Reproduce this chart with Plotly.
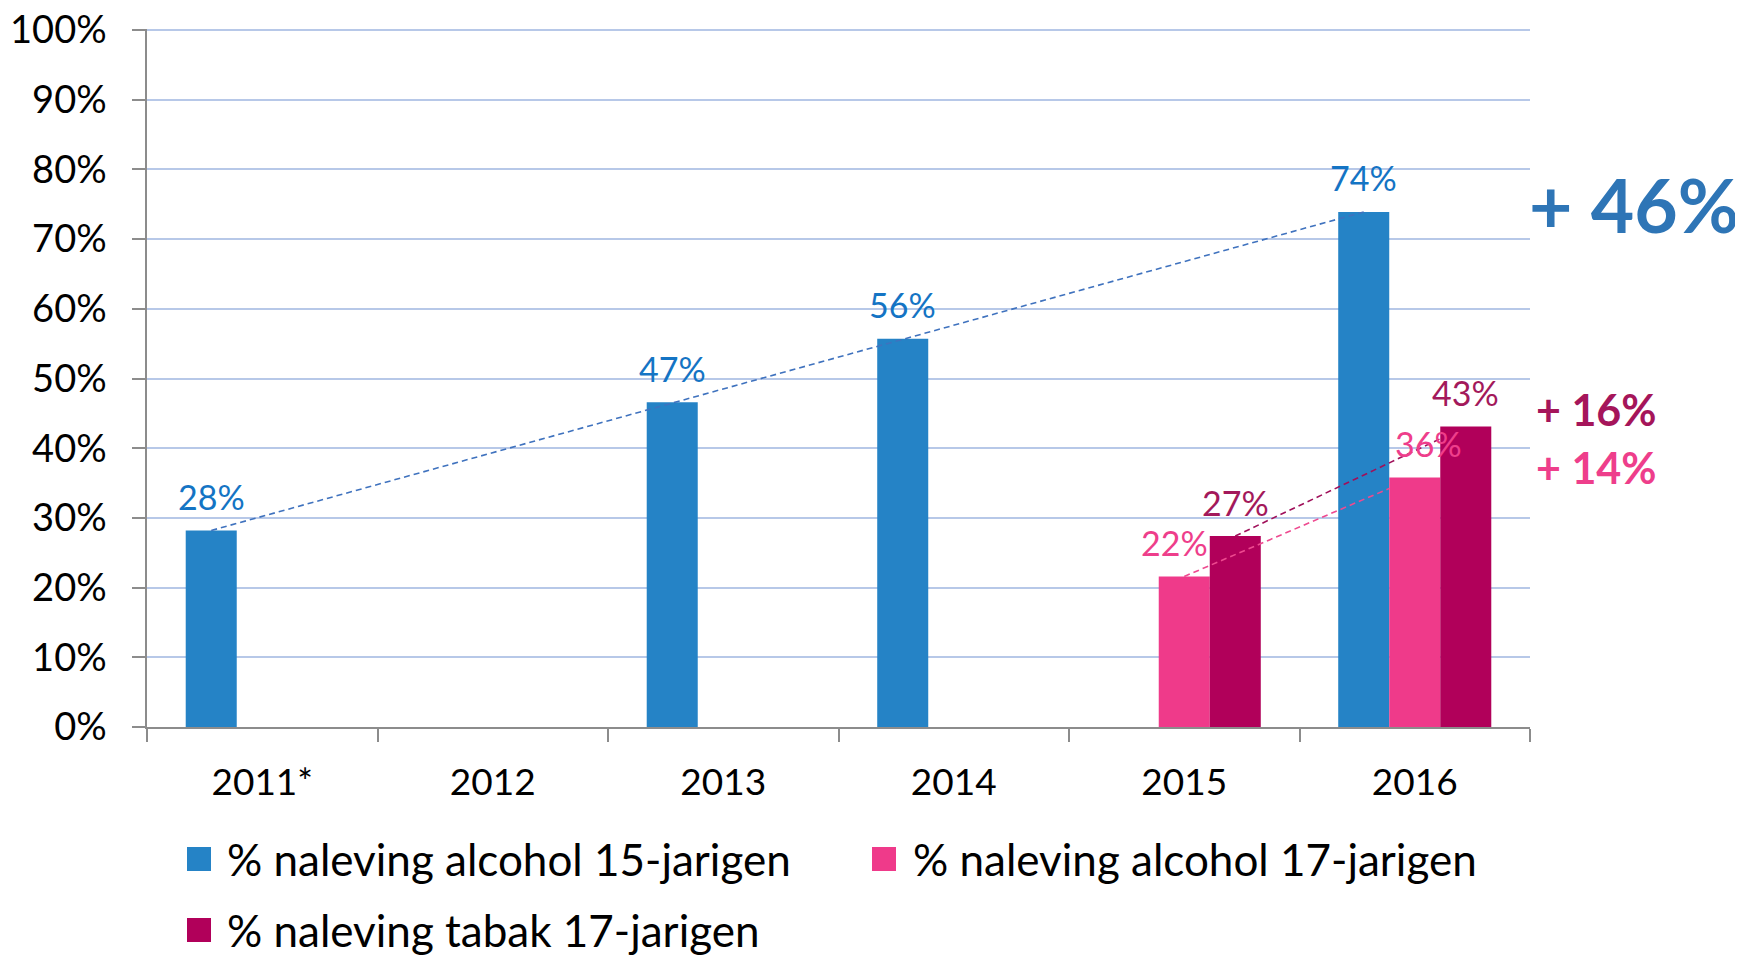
import plotly.graph_objects as go

# ---------------- data ----------------
years = ["2011*", "2012", "2013", "2014", "2015", "2016"]
alc15 = [28.2, None, 46.6, 55.7, None, 73.9]   # % naleving alcohol 15-jarigen
alc17 = [None, None, None, None, 21.6, 35.8]   # % naleving alcohol 17-jarigen
tab17 = [None, None, None, None, 27.4, 43.1]   # % naleving tabak 17-jarigen
series_names = ["% naleving alcohol 15-jarigen",
                "% naleving alcohol 17-jarigen",
                "% naleving tabak 17-jarigen"]

# ---------------- style ----------------
FONT = "Lato, sans-serif"
C_BLUE, C_PINK, C_PURPLE = "#2583C6", "#EF3A8A", "#B1005A"
T_BLUE, T_PINK, T_PURPLE = "#1474C4", "#EE3E8B", "#A3195B"
L_BLUE, L_PINK, L_PURPLE = "#3F72BE", "#EE4A90", "#A0105A"
AXIS_GREY = "#8C8C8C"
GRID = "#B7C8E8"

OFF = 8  # page body margin
W, H = 1743, 955
ML, MT = 147 - OFF, 29 - OFF
MR = W - (1530 - OFF)
MB = H - (727 - OFF)
PW, PH = W - ML - MR, H - MT - MB
BARGAP = 0.336
bw = (1 - BARGAP) / 3
offsets = [-bw, 0.0, bw]
label_xshift = [0, -10, 0]   # small horizontal nudge of the labels per series
label_xshift_last = [0, 14, 0]

xs = list(range(len(years)))
fig = go.Figure()
series = [alc15, alc17, tab17]
bar_colors = [C_BLUE, C_PINK, C_PURPLE]
for vals, name, col in zip(series, series_names, bar_colors):
    fig.add_trace(go.Bar(x=xs, y=vals, name=name, marker_color=col,
                         marker_line_width=0, showlegend=False))

# data labels
label_colors = [T_BLUE, T_PINK, T_PURPLE]
annotations = []
for s, (vals, off, col) in enumerate(zip(series, offsets, label_colors)):
    for i, v in enumerate(vals):
        if v is None:
            continue
        xsh = label_xshift_last[s] if i == len(vals) - 1 else label_xshift[s]
        annotations.append(dict(x=i + off, y=v, xref="x", yref="y",
                                text=f"{round(v)}%", showarrow=False,
                                yshift=34, xshift=xsh, yanchor="middle",
                                font=dict(family=FONT, size=34, color=col)))

# dashed trend lines
def idx(vals):
    return [i for i, v in enumerate(vals) if v is not None]

b = idx(alc15)
fig.add_trace(go.Scatter(x=[b[0] + offsets[0], b[-1] + offsets[0]],
                         y=[alc15[b[0]], alc15[b[-1]]], mode="lines",
                         line=dict(color=L_BLUE, width=1.6, dash="6px,4px"),
                         showlegend=False, hoverinfo="skip"))
T_END = 0.89
for vals, off, col in [(alc17, offsets[1], L_PINK), (tab17, offsets[2], L_PURPLE)]:
    k = idx(vals)
    x0, x1 = k[0] + off, k[-1] + off
    y0, y1 = vals[k[0]], vals[k[-1]]
    fig.add_trace(go.Scatter(x=[x0, x0 + T_END * (x1 - x0)],
                             y=[y0, y0 + T_END * (y1 - y0)], mode="lines",
                             line=dict(color=col, width=1.6, dash="6px,4px"),
                             showlegend=False, hoverinfo="skip"))

# change annotations
d15 = round(alc15[b[-1]]) - round(alc15[b[0]])
d17a = round(alc17[-1]) - round(alc17[4])
d17t = round(tab17[-1]) - round(tab17[4])
annotations.append(dict(xref="paper", yref="y", x=1.0, y=75, xanchor="left",
                        xshift=-3, text=f"<b>+ {d15}%</b>", showarrow=False,
                        font=dict(family=FONT, size=75, color="#2E75B6")))
annotations.append(dict(xref="paper", yref="y", x=1.0, y=45.6, xanchor="left",
                        xshift=4, text=f"<b>+ {d17t}%</b>", showarrow=False,
                        font=dict(family=FONT, size=43, color="#A5155A")))
annotations.append(dict(xref="paper", yref="y", x=1.0, y=37.2, xanchor="left",
                        xshift=4, text=f"<b>+ {d17a}%</b>", showarrow=False,
                        font=dict(family=FONT, size=43, color="#EE3E8B")))

# custom legend (screen pixel positions -> paper)
def px(xp):
    return (xp - OFF - ML) / PW

def py(yp):
    return (H - MB - (yp - OFF)) / PH

shapes = []
legend_items = [(187, 859, 225), (872, 859, 911), (187, 930, 225)]
for (sx, sy, tx), name, col in zip(legend_items, series_names, bar_colors):
    shapes.append(dict(type="rect", xref="paper", yref="paper",
                       x0=px(sx), x1=px(sx + 24), y0=py(sy + 12), y1=py(sy - 12),
                       fillcolor=col, line=dict(width=0)))
    annotations.append(dict(xref="paper", yref="paper", x=px(tx), y=py(sy),
                            xanchor="left", yanchor="middle", text=name,
                            showarrow=False,
                            font=dict(family=FONT, size=44, color="#000000")))

fig.update_layout(
    width=W, height=H,
    margin=dict(l=ML, r=MR, t=MT, b=MB, pad=0, autoexpand=False),
    paper_bgcolor="white", plot_bgcolor="white",
    barmode="group", bargap=BARGAP, bargroupgap=0,
    font=dict(family=FONT, size=36, color="#000000"),
    annotations=annotations, shapes=shapes,
    showlegend=False,
)
fig.update_xaxes(
    range=[-0.5, 5.5], tickmode="array", tickvals=xs, ticktext=years,
    ticks="", showgrid=False, zeroline=False, automargin=False,
    showline=True, linecolor=AXIS_GREY, linewidth=1.5,
    ticklabelstandoff=22, ticklabeloverflow="allow",
    tickfont=dict(family=FONT, size=37, color="#000000"),
    minor=dict(tickmode="linear", tick0=-0.5, dtick=1, ticks="outside",
               ticklen=13, tickcolor=AXIS_GREY, tickwidth=1.5, showgrid=False),
)
fig.update_yaxes(
    range=[0, 100.15], tickmode="linear", tick0=0, dtick=10, ticksuffix="%",
    ticks="outside", ticklen=13, tickcolor=AXIS_GREY, tickwidth=1.5,
    showline=True, linecolor=AXIS_GREY, linewidth=1.5, automargin=False,
    showgrid=True, gridcolor=GRID, gridwidth=1.5, zeroline=False,
    ticklabelstandoff=18, ticklabeloverflow="allow",
    tickfont=dict(family=FONT, size=38, color="#000000"),
)

fig.write_html("out.html")
